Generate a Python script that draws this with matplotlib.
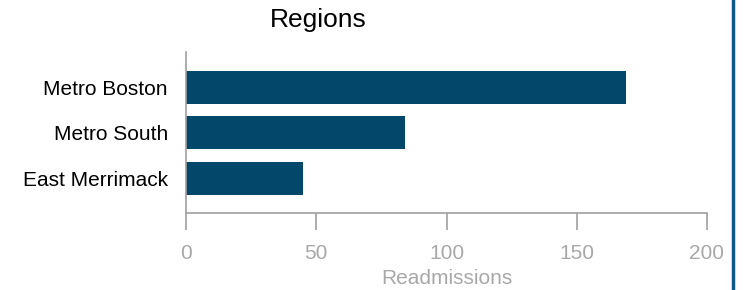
import matplotlib
matplotlib.use("Agg")
import matplotlib.pyplot as plt
from matplotlib.lines import Line2D

regions = ["Metro Boston", "Metro South", "East Merrimack"]
readmissions = [169, 84, 45]
x_ticks = [0, 50, 100, 150, 200]

plt.rcParams["font.family"] = ["Liberation Sans", "DejaVu Sans"]

fig = plt.figure(figsize=(7.44, 2.9), dpi=100)
ax = fig.add_axes([186 / 744, 77 / 290, 521 / 744, 161 / 290])

ypos = list(range(len(regions)))
ax.barh(ypos, readmissions, height=0.72, color="#03486b")

ax.set_xlim(0, 200)
ax.set_ylim(2.75, -0.77)
ax.set_yticks(ypos)
ax.set_yticklabels(regions, fontsize=15, color="black")
ax.set_xticks(x_ticks)
ax.set_xticklabels([str(t) for t in x_ticks], fontsize=15, color="#a8a8a8")
ax.tick_params(axis="y", length=0, pad=13)
ax.tick_params(axis="x", length=12, width=1.2, color="#a0a0a0", pad=10)
ax.set_xlabel("Readmissions", fontsize=15, color="#a8a8a8", labelpad=5)

for side in ["top", "right"]:
    ax.spines[side].set_visible(False)
for side in ["left", "bottom"]:
    ax.spines[side].set_color("#a0a0a0")
    ax.spines[side].set_linewidth(1.2)

fig.text(318 / 744, 1 - 20 / 290, "Regions", fontsize=19, ha="center", va="center")

# border line on the right edge
fig.add_artist(Line2D([733 / 744, 733 / 744], [0, 1], color="#0d5a8a", linewidth=2.5,
                      transform=fig.transFigure))

fig.savefig("out.png", dpi=100)
